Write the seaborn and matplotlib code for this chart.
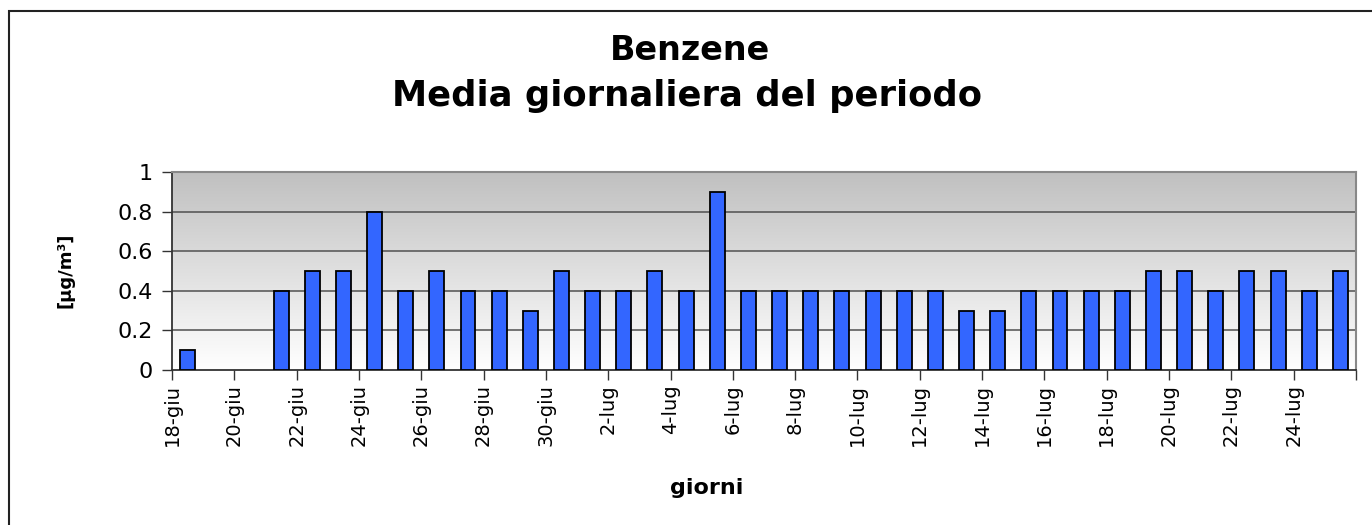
import numpy as np
import pandas as pd
import seaborn as sns
import matplotlib.pyplot as plt
from matplotlib.patches import Rectangle
from matplotlib.colors import LinearSegmentedColormap

# daily benzene means, 18 June - 25 July
giorni = ([f"{d}-giu" for d in range(18, 31)] +
          [f"{d}-lug" for d in range(1, 26)])
valori = [0.1, np.nan, np.nan, 0.4, 0.5, 0.5, 0.8, 0.4, 0.5, 0.4, 0.4, 0.3, 0.5,
          0.4, 0.4, 0.5, 0.4, 0.9, 0.4, 0.4, 0.4, 0.4, 0.4, 0.4, 0.4, 0.3, 0.3,
          0.4, 0.4, 0.4, 0.4, 0.5, 0.5, 0.4, 0.5, 0.5, 0.4, 0.5]
y_ticks = [0, 0.2, 0.4, 0.6, 0.8, 1]
y_ticklabels = ["0", "0.2", "0.4", "0.6", "0.8", "1"]

df = pd.DataFrame({"giorno": giorni, "valore": valori})

sns.set_style("white")
plt.rcParams['font.family'] = ['DejaVu Sans']
plt.rcParams['text.color'] = 'black'
plt.rcParams['xtick.color'] = 'black'
plt.rcParams['ytick.color'] = 'black'

fig = plt.figure(figsize=(13.72, 5.25), dpi=100)
ax = fig.add_axes([172/1372, 1 - 370/525, (1356 - 172)/1372, (370 - 172)/525])

# gray-to-white gradient background of the plot area
grad = np.linspace(0, 1, 256).reshape(-1, 1)
ax.imshow(grad, extent=[0, 1, 0, 1], transform=ax.transAxes, aspect='auto',
          cmap=LinearSegmentedColormap.from_list('bg', ['#c0c0c0', '#ffffff']),
          zorder=0)

sns.barplot(data=df, x="giorno", y="valore", order=giorni, color="#3366ff",
            saturation=1, width=0.48, edgecolor="black", linewidth=1.3,
            ax=ax, zorder=3)

ax.set_xlim(-0.5, len(giorni) - 0.5)
ax.set_ylim(0, 1)
ax.set_yticks(y_ticks)
ax.set_yticklabels(y_ticklabels, fontsize=16)
for v in y_ticks[1:]:
    ax.axhline(v, color="#505050", linewidth=1.1, zorder=1)

xt = np.arange(-0.5, len(giorni), 2)
ax.set_xticks(xt)
ax.set_xticklabels(giorni[0::2] + [""], rotation=90, fontsize=14)
ax.tick_params(axis='both', direction='out', length=7, width=1, color="#333333",
               pad=3, bottom=True, left=True)
ax.tick_params(axis='y', pad=7)

for s in ['left', 'bottom']:
    ax.spines[s].set_color("#333333")
    ax.spines[s].set_linewidth(1.3)
for s in ['top', 'right']:
    ax.spines[s].set_color("#888888")
    ax.spines[s].set_linewidth(1.5)

ax.set_xlabel("")
ax.set_ylabel("")
fig.text(65/1372, 1 - 270/525, "[µg/m³]", rotation=90, ha='center', va='center',
         fontsize=13, fontweight='bold')
fig.text(707/1372, 1 - 488/525, "giorni", ha='center', va='center',
         fontsize=16, fontweight='bold')
fig.text(690/1372, 1 - 50/525, "Benzene", ha='center', va='center',
         fontsize=24, fontweight='bold')
fig.text(687/1372, 1 - 96/525, "Media giornaliera del periodo", ha='center',
         va='center', fontsize=25.5, fontweight='bold')

# outer chart frame
fig.patches.append(Rectangle((9/1372, -0.1), 1.2, 1.1 - 11/525, fill=False,
                             edgecolor="#222222", linewidth=1.5,
                             transform=fig.transFigure))

fig.savefig("out.png", dpi=100)
